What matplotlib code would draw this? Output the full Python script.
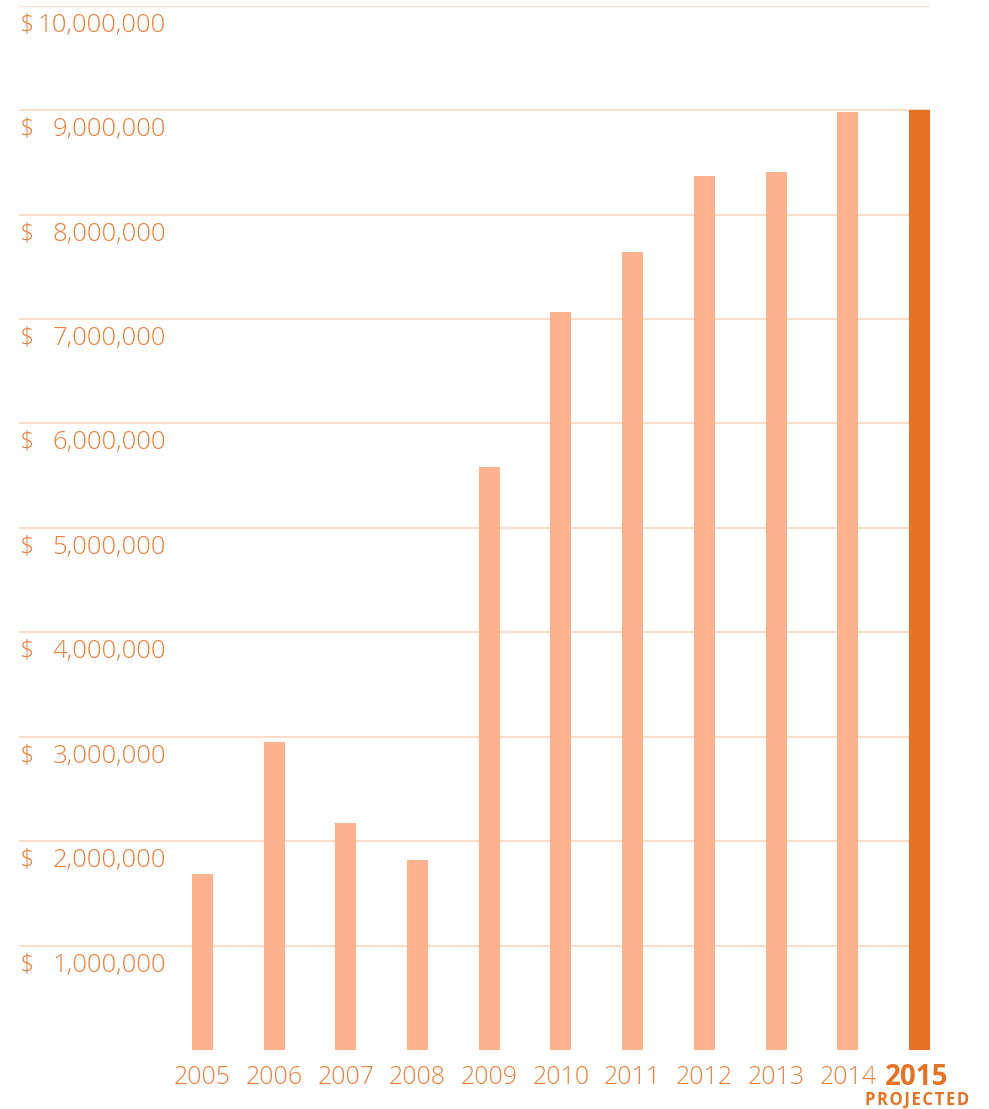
import numpy as np
import matplotlib.pyplot as plt
from matplotlib import transforms

years = ["2005", "2006", "2007", "2008", "2009", "2010",
         "2011", "2012", "2013", "2014", "2015"]
amounts = [1690000, 2950000, 2170000, 1820000, 5580000, 7070000,
           7640000, 8370000, 8410000, 8980000, 9000000]
tick_values = [1000000, 2000000, 3000000, 4000000, 5000000,
               6000000, 7000000, 8000000, 9000000, 10000000]

light = "#fcb28f"
dark = "#e57325"
grid_c = "#fddcc8"
text_c = "#e9803d"

plt.rcParams['font.family'] = ['Open Sans', 'DejaVu Sans']

W, H = 989, 1109
fig = plt.figure(figsize=(W / 100, H / 100), dpi=100)
ax = fig.add_axes([19 / W, 59 / H, 911 / W, (1050 - 5.7) / H])

x = np.arange(len(years))
bar_w = 21 / 71.7
colors = [light] * (len(years) - 1) + [dark]
ax.bar(x, amounts, width=bar_w, color=colors, zorder=3)

ax.set_xlim(-2.559, len(years) - 1 + bar_w / 2)
ax.set_ylim(0, 10000000)
for v in tick_values:
    ax.axhline(v, color=grid_c, lw=1.5, zorder=1)

ax.set_xticks([])
ax.set_yticks([])
for s in ax.spines.values():
    s.set_visible(False)

# y labels: "$" left, number right-aligned, just below each gridline
trans_y = transforms.blended_transform_factory(ax.transAxes, ax.transData)
trans_y = transforms.offset_copy(trans_y, fig=fig, y=-19.5, units='dots')
num_x = (166 - 19) / 911
for v in tick_values:
    ax.text(0, v, "$", transform=trans_y, ha='left', va='center',
            fontsize=18, color=text_c, fontweight='light')
    ax.text(num_x, v, f"{v:,}", transform=trans_y, ha='right', va='center',
            fontsize=18.5, color=text_c, fontweight='light')

# year labels under the bars
trans_x = transforms.offset_copy(ax.transData, fig=fig, y=-27.5, units='dots')
for i, yr in enumerate(years):
    if i == len(years) - 1:
        ax.text(i - 0.04, 0, yr, transform=trans_x, ha='center', va='center',
                fontsize=20, color=dark, fontweight='bold')
    else:
        ax.text(i, 0, yr, transform=trans_x, ha='center', va='center',
                fontsize=18, color=text_c, fontweight='light')

trans_p = transforms.offset_copy(ax.transData, fig=fig, y=-49.5, units='dots')
ax.text(len(years) - 1 - 0.04, 0, "\u200a".join("PROJECTED"), transform=trans_p,
        ha='center', va='center', fontsize=12, color=dark, fontweight='bold')

fig.savefig("out.png", dpi=100)
